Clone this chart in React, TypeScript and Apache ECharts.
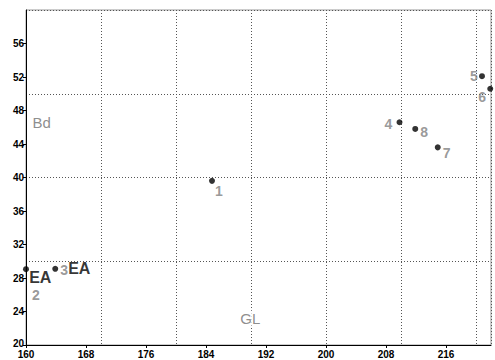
import React, { useEffect, useRef } from "react";
import * as echarts from "echarts";

// Data points
const pointNames = ["1", "2", "3", "4", "5", "6", "7", "8"];
const pointX = [184.8, 160.0, 163.9, 209.8, 220.8, 221.9, 214.9, 211.9];
const pointY = [39.6, 29.05, 29.1, 46.6, 52.1, 50.6, 43.6, 45.8];

// Region annotations
const regionNames = ["Bd", "GL"];
const regionX = [162.1, 189.9];
const regionY = [46.6, 23.2];

const eaNames = ["EA", "EA"];
const eaX = [161.9, 167.1];
const eaY = [28.1, 29.1];

// Axis settings
const xMin = 160;
const xMax = 222;
const xTickStep = 8;
const yMin = 20;
const yMax = 60;
const yTickStep = 4;
const gridStep = 10;

// label offsets (style) for the numbered points
const labelOffsets: Record<string, [number, number]> = {
  "1": [7, 10],
  "2": [10, 26],
  "3": [9, 1],
  "4": [-11, 2],
  "5": [-8, 0],
  "6": [-8, 8],
  "7": [9, 6],
  "8": [9, 3],
};

const FONT = "'Liberation Sans Narrow', 'Liberation Sans', Arial, sans-serif";

export default function App() {
  const ref = useRef<HTMLDivElement>(null);
  useEffect(() => {
    if (!ref.current) return;
    const chart = echarts.init(ref.current, undefined, { renderer: "svg" });
    const gridLine = { show: true, lineStyle: { color: "#555", type: [1, 2] as any, width: 1 } };
    const axisFont = { color: "#000", fontFamily: FONT, fontWeight: "bold" as const, fontSize: 10 };
    chart.setOption({
      animation: false,
      backgroundColor: "#fff",
      grid: { left: 26, right: 4, top: 10, bottom: 15, show: true, borderColor: "#999", borderWidth: 1 },
      xAxis: [
        {
          type: "value",
          min: xMin,
          max: xMax,
          interval: xTickStep,
          axisLine: { show: true, lineStyle: { color: "#000", width: 1 } },
          axisTick: { show: true, length: 3, lineStyle: { color: "#000" } },
          axisLabel: { ...axisFont, margin: 4, showMaxLabel: false },
          splitLine: { show: false },
        },
        {
          type: "value",
          min: xMin,
          max: xMax,
          interval: gridStep,
          position: "top",
          axisLine: { show: false },
          axisTick: { show: false },
          axisLabel: { show: false },
          splitLine: gridLine,
        },
      ],
      yAxis: [
        {
          type: "value",
          min: yMin,
          max: yMax,
          interval: yTickStep,
          axisLine: { show: true, lineStyle: { color: "#000", width: 1 } },
          axisTick: { show: true, length: 3, lineStyle: { color: "#000" } },
          axisLabel: {
            ...axisFont,
            margin: 2,
            showMaxLabel: false,
            formatter: (v: number) => (v === yMin ? "{min|" + v + "}" : String(v)),
            rich: { min: { ...axisFont, padding: [0, 0, 4, 0] } },
          },
          splitLine: { show: false },
        },
        {
          type: "value",
          min: yMin,
          max: yMax,
          interval: gridStep,
          position: "right",
          axisLine: { show: false },
          axisTick: { show: false },
          axisLabel: { show: false },
          splitLine: gridLine,
        },
      ],
      series: [
        {
          type: "scatter",
          xAxisIndex: 0,
          yAxisIndex: 0,
          clip: false,
          symbol: "circle",
          symbolSize: 6,
          itemStyle: { color: "#000" },
          data: pointNames.map((n, i) => ({
            name: n,
            value: [pointX[i], pointY[i]],
            label: {
              show: true,
              position: "inside",
              offset: labelOffsets[n],
              formatter: n,
              color: "#808080",
              fontFamily: FONT,
              fontWeight: "bold",
              fontSize: 14,
            },
          })),
        },
        {
          type: "scatter",
          xAxisIndex: 0,
          yAxisIndex: 0,
          clip: false,
          symbolSize: 0,
          silent: true,
          z: 5,
          data: regionNames.map((n, i) => ({ name: n, value: [regionX[i], regionY[i]] })),
          label: {
            show: true,
            position: "inside",
            formatter: (p: any) => p.name,
            color: "#707070",
            fontFamily: FONT,
            fontWeight: "normal",
            fontSize: 15,
            backgroundColor: "#fff",
            padding: [0, 1],
          },
        },
        {
          type: "scatter",
          xAxisIndex: 0,
          yAxisIndex: 0,
          clip: false,
          symbolSize: 0,
          silent: true,
          data: eaNames.map((n, i) => ({ name: n, value: [eaX[i], eaY[i]] })),
          label: {
            show: true,
            position: "inside",
            formatter: (p: any) => p.name,
            color: "#000",
            fontFamily: FONT,
            fontWeight: "bold",
            fontSize: 16,
          },
        },
      ],
    });
    return () => chart.dispose();
  }, []);
  return <div ref={ref} style={{ position: "fixed", left: 0, top: 0, width: 495, height: 360 }} />;
}
